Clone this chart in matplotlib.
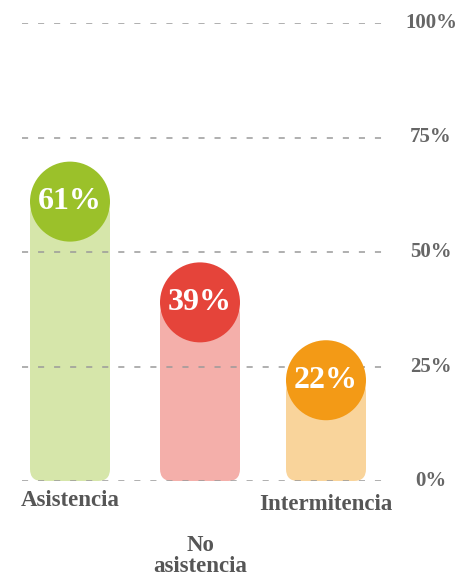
import matplotlib.pyplot as plt
from matplotlib.patches import FancyBboxPatch, Ellipse

# asistencia de los encuestados
categories = ["Asistencia", "No\nasistencia", "Intermitencia"]
values = [61, 39, 22]
ticks = [0, 25, 50, 75, 100]

dark = ["#9bc12a", "#e5443a", "#f39a16"]
light = ["#d6e6aa", "#f4afaa", "#f9d49b"]
xpos = [70, 200, 326]          # bar centres in pixels
label_dy = [-14, -54, -17]     # label offsets in points below 0%

W, H = 4.56, 5.76
fig = plt.figure(figsize=(W, H), dpi=100)
y0, y1 = 481, 23               # pixel rows of 0% and 100%
ax = fig.add_axes([0, (576 - y0) / 576, 1, (y0 - y1) / 576])
ax.set_xlim(0, 456)
ax.set_ylim(0, 100)
ax.axis("off")

# y units per pixel, used to keep circles round
asp = 100 / (y0 - y1)
bw = 80
serif = ["Liberation Serif", "DejaVu Serif"]
grey = "#565656"

for t in ticks:
    ax.axhline(t, xmin=22 / 456, xmax=388 / 456, color="#9a9a9a", lw=1.1,
               dashes=(4, 6.5), zorder=2)
    ax.text(431, t, f"{t}%", ha="center", va="center", fontsize=15,
            fontweight="bold", family=serif, color="#666666", clip_on=False)

for x, v, c1, c2, cat, dy in zip(xpos, values, dark, light, categories, label_dy):
    bar = FancyBboxPatch((x - bw / 2, 0), bw, v,
                         boxstyle="round,pad=0,rounding_size=12",
                         mutation_aspect=asp, fc=c2, ec="none", zorder=1)
    ax.add_patch(bar)
    ax.add_patch(Ellipse((x, v), bw, bw * asp, fc=c1, ec="none", zorder=3))
    ax.text(x, v, f"{v}%", ha="center", va="center", fontsize=23,
            fontweight="bold", family=serif, color="white", zorder=4)
    ax.annotate(cat, (x, 0), xytext=(0, dy), textcoords="offset points",
                ha="center", va="center", fontsize=16.5, fontweight="bold",
                family=serif, color=grey, linespacing=1.0,
                annotation_clip=False)

fig.savefig("out.png", dpi=100, facecolor="white")
